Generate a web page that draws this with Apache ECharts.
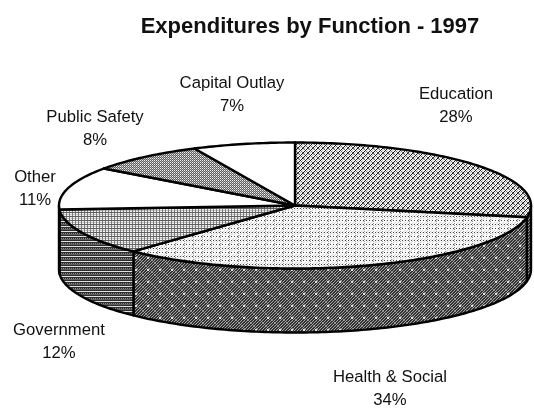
<!DOCTYPE html>
<html>
<head>
    <meta charset="utf-8">
    <title>Expenditures by Function - 1997</title>
    <script src="https://cdn.jsdelivr.net/npm/echarts@6/dist/echarts.min.js"></script>
    <style>
        html, body { margin: 0; padding: 0; background: #fff; }
        #chart { width: 534px; height: 408px; }
    </style>
</head>
<body>
<div id="chart"></div>
<script>
var titleText = 'Expenditures by Function - 1997';
var categories = ['Education', 'Health & Social', 'Government', 'Other', 'Public Safety', 'Capital Outlay'];
var values = [28, 34, 12, 11, 8, 7];

// where each label sits, same order as categories
var labelAt = [[456, 94], [390, 377], [59, 330], [35, 177], [95, 117], [232, 83]];

// the pie disc
var cx = 295, cy = 205.5, rx = 236, ry = 63, depth = 64;

// screen-tone fills, drawn to small tiles
function tile(n, m, fn) {
    var c = document.createElement('canvas');
    c.width = n; c.height = m;
    var g = c.getContext('2d');
    for (var y = 0; y < m; y++) {
        for (var x = 0; x < n; x++) {
            var v = fn(x, y);
            g.fillStyle = 'rgb(' + v + ',' + v + ',' + v + ')';
            g.fillRect(x, y, 1, 1);
        }
    }
    return { image: c, repeat: 'repeat' };
}
var topFills = [
    tile(5, 5, function (x, y) { return (x + y) % 5 == 0 ? 25 : ((x - y + 5) % 5 == 0 ? 110 : ((x + y) % 5 == 2 ? 200 : 245)); }),
    tile(9, 8, function (x, y) { return (x % 3 == 0 && y % 4 == 0) ? 70 : ((x % 9 == 4 && y % 2 == 1) ? 150 : ((x + y) % 6 == 2 ? 215 : 250)); }),
    tile(6, 4, function (x, y) { return y % 4 == 0 ? 95 : (x % 3 == 0 ? 125 : (y % 2 == 0 ? 195 : 240)); }),
    '#fff',
    tile(4, 4, function (x, y) { return (x + y) % 2 ? 95 : (x % 2 ? 175 : 240); }),
    '#fff'
];
function darkHatch(x, y) {
    // light flecks every so often on a dark diagonal hatch
    if ((x % 12 == 3 || x % 12 == 4) && (y % 12 == 5 || y % 12 == 6)) return 225;
    return (x + y) % 3 == 0 ? 165 : ((x - y + 12) % 12 == 0 ? 130 : 50);
}
var sideFills = [
    tile(12, 12, darkHatch),
    tile(12, 12, darkHatch),
    tile(6, 5, function (x, y) { return y % 5 == 1 ? 225 : (y % 5 == 3 && x % 2 ? 140 : (y % 5 == 4 ? 95 : 45)); }),
    '#555', '#555', '#555'
];

var total = values.reduce(function (a, b) { return a + b; }, 0);
var starts = [];
values.reduce(function (sum, v, i) { starts[i] = sum; return sum + v; }, 0);

function rimPoint(deg, dy) {
    var t = deg * Math.PI / 180;
    return [cx + rx * Math.sin(t), cy - ry * Math.cos(t) + dy];
}

function arc(a, b, dy) {
    var pts = [];
    var n = Math.max(2, Math.ceil(b - a));
    for (var i = 0; i <= n; i++) pts.push(rimPoint(a + (b - a) * i / n, dy));
    return pts;
}

function renderSlice(params, api) {
    var i = params.dataIndex;
    var a = starts[i] / total * 360;
    var b = a + api.value(0) / total * 360;
    var children = [];
    var sa = Math.max(a, 90), sb = Math.min(b, 270);
    if (sb > sa) {
        children.push({
            type: 'polygon',
            shape: { points: arc(sa, sb, 0).concat(arc(sa, sb, depth).reverse()) },
            style: { fill: sideFills[i], stroke: '#000', lineWidth: 2.4, lineJoin: 'round' }
        });
    }
    children.push({
        type: 'polygon',
        shape: { points: [[cx, cy]].concat(arc(a, b, 0)) },
        style: { fill: topFills[i], stroke: '#000', lineWidth: 2.4, lineJoin: 'round' }
    });
    return { type: 'group', children: children };
}

var chart = echarts.init(document.getElementById('chart'), null, { renderer: 'canvas' });
chart.setOption({
    animation: false,
    backgroundColor: '#fff',
    title: {
        text: titleText,
        left: 305,
        top: 11,
        textAlign: 'center',
        textStyle: { fontFamily: 'Liberation Sans', fontWeight: 'bold', fontSize: 22, color: '#111' }
    },
    graphic: categories.map(function (name, i) {
        return {
            type: 'text',
            z: 100,
            x: labelAt[i][0],
            y: labelAt[i][1] - 11,
            style: {
                text: name + '\n' + values[i] + '%',
                font: '16.7px "Liberation Sans"',
                lineHeight: 23,
                fill: '#111',
                align: 'center',
                verticalAlign: 'top'
            }
        };
    }),
    series: [{
        type: 'custom',
        coordinateSystem: 'none',
        renderItem: renderSlice,
        data: values.map(function (v) { return [v]; })
    }]
});
</script>
</body>
</html>
